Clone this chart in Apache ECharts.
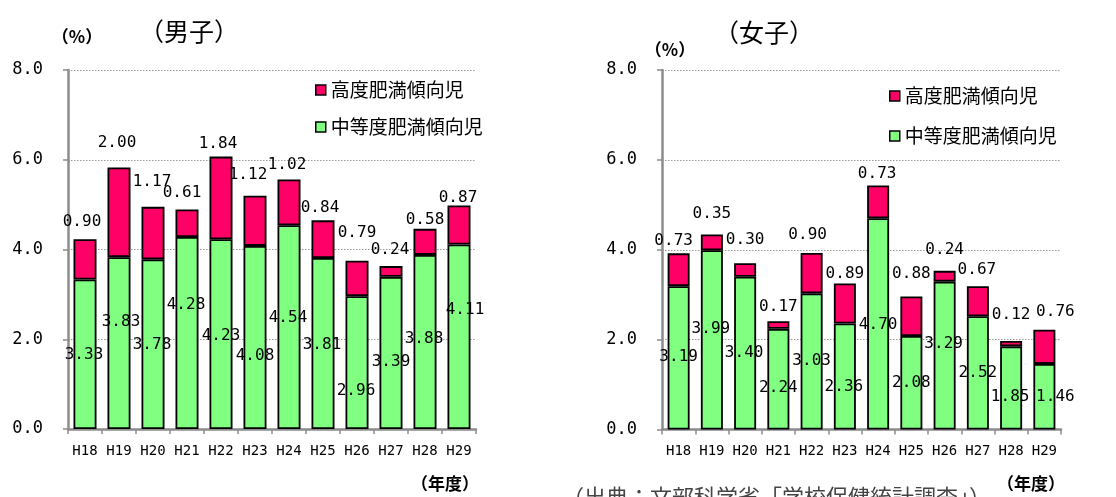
<!DOCTYPE html>
<html>
<head>
<meta charset="utf-8">
<script src="https://cdn.jsdelivr.net/npm/echarts@6/dist/echarts.min.js"></script>
<style>
  html, body { margin: 0; padding: 0; background: #fff; }
  #chart { width: 1116px; height: 497px; }
</style>
</head>
<body>
<div id="chart"></div>
<script>
// School years (Heisei era)
const years = ['H18', 'H19', 'H20', 'H21', 'H22', 'H23', 'H24', 'H25', 'H26', 'H27', 'H28', 'H29'];
const yTicks = [0, 2, 4, 6, 8];

// Boys (%)
const boysModerate = [3.33, 3.83, 3.78, 4.28, 4.23, 4.08, 4.54, 3.81, 2.96, 3.39, 3.88, 4.11];
const boysSevere   = [0.90, 2.00, 1.17, 0.61, 1.84, 1.12, 1.02, 0.84, 0.79, 0.24, 0.58, 0.87];

// Girls (%)
const girlsModerate = [3.19, 3.99, 3.40, 2.24, 3.03, 2.36, 4.70, 2.08, 3.29, 2.52, 1.85, 1.46];
const girlsSevere   = [0.73, 0.35, 0.30, 0.17, 0.90, 0.89, 0.73, 0.88, 0.24, 0.67, 0.12, 0.76];

const seriesNames = ['高度肥満傾向児', '中等度肥満傾向児'];

// Hand-placed label nudges [dx, dy] in pixels, so labels don't collide
const boysModShift   = [[-1, 1], [2, -21], [-1, 1], [-1, -28], [0, 2], [0, 18], [-1, -9], [-1, 1], [-1, 28], [0, 9], [-1, -3], [6, -27]];
const boysSevShift   = [[-3, -8], [-2, -16], [-1, -16], [-5, -8], [-3, -4], [-7, -12], [-2, -6], [-3, -3], [0, -19], [-1, -7], [0, 0], [-1, 1]];
const girlsModShift  = [[0, -1], [-1, -11], [-1, 0], [0, 9], [0, -1], [-1, 10], [0, 1], [0, 0], [-1, -12], [0, 0], [-1, 9], [11, 0]];
const girlsSevShift  = [[-5, -4], [0, -12], [0, -14], [0, -5], [-4, -9], [0, -1], [-1, -3], [0, -14], [0, -12], [-1, -7], [0, -17], [11, -9]];

const RED = '#FF0066';
const GREEN = '#80FF80';
const MONO = '"DejaVu Sans Mono", monospace';
const CJK = '"Noto Sans CJK JP", sans-serif';

function withShift(values, shifts) {
  return values.map((v, i) => ({ value: v, label: { offset: shifts[i] } }));
}

function xAxisFor(gridIndex) {
  return {
    type: 'category',
    gridIndex: gridIndex,
    data: years,
    axisLine: { lineStyle: { color: '#8c8c8c', width: 2.5 } },
    axisTick: { show: true, alignWithLabel: false, length: 5, lineStyle: { color: '#8c8c8c', width: 1.5 } },
    axisLabel: { color: '#000', fontFamily: MONO, fontSize: 14, margin: 15 }
  };
}

function yAxisFor(gridIndex) {
  return {
    type: 'value',
    gridIndex: gridIndex,
    min: yTicks[0],
    max: yTicks[yTicks.length - 1],
    interval: 2,
    axisLine: { show: true, lineStyle: { color: '#8c8c8c', width: 2.5 } },
    axisTick: { show: true, length: 5, lineStyle: { color: '#8c8c8c', width: 1.5 } },
    axisLabel: {
      color: '#000', fontFamily: MONO, fontSize: 17, margin: 25,
      formatter: v => v.toFixed(1)
    },
    splitLine: { show: true, lineStyle: { color: '#999', type: [1.5, 1.5], width: 1 } }
  };
}

function barPair(axisIndex, moderate, severe, modShift, sevShift, barWidth) {
  const common = {
    type: 'bar',
    stack: 's' + axisIndex,
    xAxisIndex: axisIndex,
    yAxisIndex: axisIndex,
    barWidth: barWidth,
    animation: false
  };
  return [
    Object.assign({}, common, {
      name: seriesNames[1],
      data: withShift(moderate, modShift),
      itemStyle: { color: GREEN, borderColor: '#000', borderWidth: 1.8 },
      label: {
        show: true, position: 'inside', color: '#000',
        fontFamily: MONO, fontSize: 16,
        formatter: p => p.value.toFixed(2)
      }
    }),
    Object.assign({}, common, {
      name: seriesNames[0],
      data: withShift(severe, sevShift),
      itemStyle: { color: RED, borderColor: '#000', borderWidth: 1.8 },
      label: {
        show: true, position: 'top', distance: 1, color: '#000',
        fontFamily: MONO, fontSize: 16,
        formatter: p => p.value.toFixed(2)
      }
    })
  ];
}

function legendAt(left, top, gap) {
  return {
    orient: 'vertical',
    left: left,
    top: top,
    padding: 0,
    data: seriesNames,
    icon: 'rect',
    itemWidth: 10,
    itemHeight: 10,
    itemGap: gap,
    selectedMode: false,
    itemStyle: { borderColor: '#000', borderWidth: 1.5 },
    textStyle: { color: '#000', fontFamily: CJK, fontSize: 19, lineHeight: 19 }
  };
}

function text(x, y, str, size, opts) {
  return {
    type: 'text', x: x, y: y,
    style: Object.assign({
      text: str, fontSize: size, fontFamily: CJK, fill: '#000',
      textAlign: 'center', textVerticalAlign: 'middle'
    }, opts || {})
  };
}

const chart = echarts.init(document.getElementById('chart'), null, { renderer: 'canvas' });

chart.setOption({
  backgroundColor: '#fff',
  animation: false,
  grid: [
    { left: 68, top: 70, width: 408, height: 359 },
    { left: 662, top: 70, width: 399, height: 359.5 }
  ],
  xAxis: [xAxisFor(0), xAxisFor(1)],
  yAxis: [yAxisFor(0), yAxisFor(1)],
  legend: [legendAt(315, 80.5, 18), legendAt(889, 86.5, 21)],
  series: [
    ...barPair(0, boysModerate, boysSevere, boysModShift, boysSevShift, 23),
    ...barPair(1, girlsModerate, girlsSevere, girlsModShift, girlsSevShift, 22)
  ],
  graphic: [
    text(189, 31, '（男子）', 25),
    text(764, 32, '（女子）', 25),
    text(77, 37, '（%）', 17, { fontWeight: 'bold' }),
    text(670, 50, '（%）', 17, { fontWeight: 'bold' }),
    text(445, 484, '（年度）', 17, { fontWeight: 'bold' }),
    text(1031, 484, '（年度）', 17, { fontWeight: 'bold' }),
    text(562, 497, '（出典：文部科学省「学校保健統計調査」）', 22, { textAlign: 'left', fill: '#444' })
  ]
});
</script>
</body>
</html>
